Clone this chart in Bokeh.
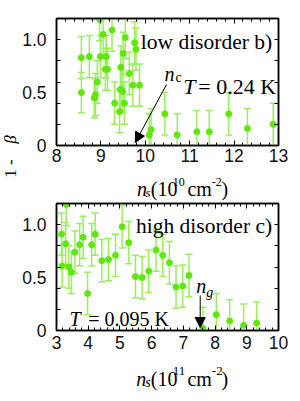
import math
from bokeh.plotting import figure
from bokeh.layouts import column, row
from bokeh.models import (FixedTicker, LinearAxis, Range1d, Label, Arrow,
                          NormalHead, CustomJSTickFormatter)
from bokeh.embed import file_html
from bokeh.resources import INLINE

# ---------------- data ----------------
# panel b) low disorder, T = 0.24 K, n_s in 1e10 cm^-2
x_low = [8.56, 8.56, 8.74, 8.85, 8.88, 8.92, 8.97, 8.99, 9.05, 9.10, 9.12, 9.15,
         9.25, 9.31, 9.42, 9.44, 9.45, 9.49, 9.50, 9.53, 9.55, 9.64, 9.72, 9.76,
         9.79, 9.87, 10.09, 10.13, 10.44, 10.72, 11.16, 11.44, 11.88, 12.30, 12.88]
y_low = [0.83, 0.50, 0.84, 0.45, 0.48, 0.60, 1.19, 0.84, 1.05, 0.72, 0.84, 0.72,
         1.09, 0.40, 0.32, 0.53, 0.74, 0.51, 0.87, 0.40, 1.02, 0.68, 0.57, 0.97,
         0.91, 0.57, 0.10, 0.15, 0.30, 0.10, 0.13, 0.13, 0.30, 0.16, 0.20]
err_low = [0.20, 0.19, 0.20, 0.19, 0.20, 0.20, 0.20, 0.20, 0.20, 0.20, 0.20, 0.20,
           0.20, 0.20, 0.20, 0.20, 0.20, 0.20, 0.20, 0.20, 0.20, 0.20, 0.20, 0.20,
           0.20, 0.20, 0.20, 0.20, 0.20, 0.20, 0.20, 0.20, 0.20, 0.19, 0.20]

# panel c) high disorder, T = 0.095 K, n_s in 1e11 cm^-2
x_high = [3.16, 3.18, 3.29, 3.31, 3.39, 3.47, 3.58, 3.73, 3.84, 3.98, 4.11, 4.22,
          4.43, 4.64, 4.86, 5.07, 5.28, 5.49, 5.70, 5.91, 6.14, 6.35, 6.56, 6.77,
          6.98, 7.18, 7.62, 8.04, 8.46, 8.90, 9.31]
y_high = [0.91, 0.61, 0.82, 1.19, 0.60, 0.55, 0.74, 0.81, 0.88, 0.35, 0.81, 0.91,
          0.66, 0.67, 0.71, 0.98, 0.83, 0.51, 0.50, 0.56, 0.76, 0.71, 0.64, 0.41,
          0.42, 0.52, 0.02, 0.15, 0.09, 0.05, 0.07]
err_high = [0.20, 0.20, 0.20, 0.20, 0.20, 0.20, 0.20, 0.20, 0.20, 0.20, 0.20, 0.20,
            0.20, 0.20, 0.20, 0.20, 0.20, 0.20, 0.20, 0.20, 0.20, 0.20, 0.20, 0.20,
            0.20, 0.20, 0.20, 0.20, 0.20, 0.20, 0.20]

xticks_low = [8, 9, 10, 11, 12, 13]
xticks_high = [3, 4, 5, 6, 7, 8, 9, 10]
yticks = [0, 0.5, 1.0]
ytick_labels = {0: "0", 0.5: "0.5", 1: "1.0"}

# ---------------- style ----------------
SERIF = "Liberation Serif"
SANS = "Liberation Sans"
MARK = "#5ee80a"
ERR = "#9aee5e"
YLAB_W = 19
PW = 273
TOTAL_H = 395


def empty_fmt():
    return CustomJSTickFormatter(code="return ''")


def make_panel(xr, xticks, height, top_border, bottom_border, x_standoff):
    p = figure(width=PW, height=height, x_range=Range1d(*xr), y_range=Range1d(0, 1.2),
               output_backend="svg", toolbar_location=None,
               min_border_left=35, min_border_right=14, min_border_top=top_border,
               min_border_bottom=bottom_border)
    p.xgrid.visible = False
    p.ygrid.visible = False
    p.outline_line_color = "black"
    p.outline_line_width = 1.5
    n5 = int(round((xr[1] - xr[0]) * 5))
    xminor = [xr[0] + i * 0.2 for i in range(n5 + 1)]
    yminor = [i * 0.2 for i in range(7)]

    def style_x(ax, labels=True):
        ax.ticker = FixedTicker(ticks=xticks, minor_ticks=xminor)
        ax.major_tick_in = 5
        ax.major_tick_out = 0
        ax.minor_tick_in = 3
        ax.minor_tick_out = 0
        ax.axis_line_width = 1.5
        ax.major_label_text_font = SANS
        ax.major_label_text_font_size = "17.5px"
        ax.major_label_text_color = "#111111"
        ax.major_label_standoff = x_standoff
        if not labels:
            ax.formatter = empty_fmt()
            ax.major_label_standoff = 0
            ax.major_label_text_font_size = "0px"

    def style_y(ax, labels=True):
        ax.ticker = FixedTicker(ticks=yticks, minor_ticks=yminor)
        ax.major_tick_in = 0
        ax.major_tick_out = 0
        ax.minor_tick_in = 4
        ax.minor_tick_out = 0
        ax.axis_line_width = 1.5
        ax.major_label_text_font = SANS
        ax.major_label_text_font_size = "17.5px"
        ax.major_label_text_color = "#111111"
        ax.major_label_standoff = 10
        if labels:
            ax.major_label_overrides = ytick_labels
        else:
            ax.formatter = empty_fmt()
            ax.major_label_standoff = 0
            ax.major_label_text_font_size = "0px"

    style_x(p.xaxis[0])
    style_y(p.yaxis[0])
    top = LinearAxis()
    style_x(top, labels=False)
    p.add_layout(top, "above")
    right = LinearAxis()
    style_y(right, labels=False)
    p.add_layout(right, "right")
    return p


def text_fig(w, h, xr, yr):
    f = figure(width=w, height=h, x_range=Range1d(*xr), y_range=Range1d(*yr),
               output_backend="svg", toolbar_location=None,
               x_axis_location=None, y_axis_location=None,
               min_border=0, min_border_left=0, min_border_right=0,
               min_border_top=0, min_border_bottom=0)
    f.xgrid.visible = False
    f.ygrid.visible = False
    f.outline_line_color = None
    return f


def draw_points(p, xs, ys, es):
    lo = [y - e for y, e in zip(ys, es)]
    hi = [y + e for y, e in zip(ys, es)]
    p.segment(x0=xs, y0=lo, x1=xs, y1=hi, line_color=ERR, line_width=1.5)
    p.scatter(x=xs + xs, y=lo + hi, marker="dash", size=7, line_color=ERR, line_width=1.5)
    p.scatter(x=xs, y=ys, marker="circle", size=6, fill_color=MARK, line_color=MARK)


def lab(p, x, y, text, size="20px", style="normal", align="left", angle=0.0,
        baseline="alphabetic"):
    p.add_layout(Label(x=x, y=y, text=text, text_font=SERIF, text_font_size=size,
                       text_font_style=style, text_align=align,
                       text_baseline=baseline, text_color="black",
                       angle=angle, angle_units="rad"))


# ---------------- top panel (page y 0..168) ----------------
p1 = make_panel((8, 13), xticks_low, 168, 18, 23, 3)
draw_points(p1, x_low, y_low, err_low)


def tx(px):
    return 8 + (px - 54) * 5 / 224


def ty(py):
    return (145 - py) * 1.2 / 127


lab(p1, tx(277), ty(41.5), "low disorder  b)", size="21.5px", align="right")
lab(p1, tx(163), ty(73), "n", style="italic")
lab(p1, tx(174), ty(77), "c", size="14px")
lab(p1, tx(182), ty(86), "T", size="22px", style="italic")
lab(p1, tx(197), ty(86), "= 0.24 K", size="22px")
p1.add_layout(Arrow(end=NormalHead(size=10, fill_color="black", line_color="black", line_width=1),
                    x_start=tx(165), y_start=ty(84), x_end=tx(133.5), y_end=ty(142),
                    line_color="black", line_width=1))

# x label of top panel (page y 168..201)
xl1 = text_fig(PW, 33, (YLAB_W, YLAB_W + PW), (201, 168))
lab(xl1, 118, 188.5, "n", style="italic")
lab(xl1, 128.5, 191.5, "s", size="13px", style="italic")
lab(xl1, 135, 188.5, "(10")
lab(xl1, 162, 181.5, "10", size="12px")
lab(xl1, 180, 188.5, "cm")
lab(xl1, 210, 181.5, "-2", size="12px")
lab(xl1, 222, 188.5, ")")

# ---------------- bottom panel (page y 201..356) ----------------
p2 = make_panel((3, 10), xticks_high, 155, 2, 26, 5)
draw_points(p2, x_high, y_high, err_high)


def bx(px):
    return 3 + (px - 54) * 7 / 224


def by(py):
    return (330 - py) * 1.2 / 127


lab(p2, bx(277), by(225), "high disorder  c)", size="21.5px", align="right")
lab(p2, bx(195), by(285), "n", style="italic")
lab(p2, bx(205), by(292), "g", size="14px", style="italic")
lab(p2, bx(67), by(318), "T", style="italic")
lab(p2, bx(86), by(318), "= 0.095 K")
p2.add_layout(Arrow(end=NormalHead(size=10, fill_color="black", line_color="black", line_width=1),
                    x_start=bx(199), y_start=by(295), x_end=bx(199), y_end=by(327),
                    line_color="black", line_width=1))

# x label of bottom panel (page y 356..395)
xl2 = text_fig(PW, 39, (YLAB_W, YLAB_W + PW), (395, 356))
lab(xl2, 117, 378.5, "n", style="italic")
lab(xl2, 128, 382, "s", size="14px", style="italic")
lab(xl2, 135, 378.5, "(10")
lab(xl2, 162, 370.5, "11", size="13px")
lab(xl2, 180, 378.5, "cm")
lab(xl2, 210, 370.5, "-2", size="13px")
lab(xl2, 222, 378.5, ")")

# shared y label (page x 0..19), centred boxes
yl = text_fig(YLAB_W, TOTAL_H, (0, YLAB_W), (0, TOTAL_H))
lab(yl, 9.5, TOTAL_H - 168, "1 -", size="17px", align="center", baseline="middle",
    angle=math.pi / 2)
lab(yl, 9.5, TOTAL_H - 139, "\u03b2", size="17px", style="italic", align="center",
    baseline="middle", angle=math.pi / 2)

layout = row(yl, column(p1, xl1, p2, xl2, spacing=0), spacing=0)
open("out.html", "w").write(file_html(layout, INLINE))
